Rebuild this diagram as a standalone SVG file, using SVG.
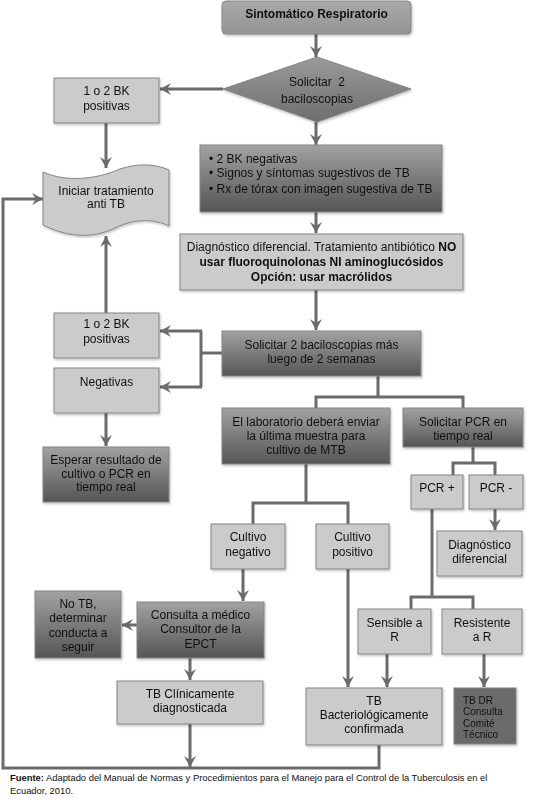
<svg xmlns="http://www.w3.org/2000/svg" width="555" height="810" viewBox="0 0 555 810">
<style>
.lt{fill:#cbcbcb;stroke:#858585;stroke-width:1}
.dk{fill:url(#gd);stroke:#858585;stroke-width:1}
.t{font-family:"Liberation Sans",Arial,sans-serif;font-size:12px;text-anchor:middle;fill:#111}
.b{font-weight:bold}
.c path{fill:none;stroke:#6b6b6b;stroke-width:3}
.c .a{marker-end:url(#ar)}
</style>
<defs>
<linearGradient id="gd" x1="0" y1="0" x2="0" y2="1"><stop offset="0" stop-color="#a2a2a2"/><stop offset="1" stop-color="#555"/></linearGradient>
<linearGradient id="gt" x1="0" y1="0" x2="0" y2="1"><stop offset="0" stop-color="#a8a8a8"/><stop offset="1" stop-color="#959595"/></linearGradient>
<linearGradient id="gm" x1="0" y1="0" x2="0" y2="1"><stop offset="0" stop-color="#9a9a9a"/><stop offset="1" stop-color="#6e6e6e"/></linearGradient>
<marker id="ar" markerUnits="userSpaceOnUse" markerWidth="12" markerHeight="12" refX="11" refY="6" orient="auto"><path d="M0,0 L11,6 L0,12 L4,6 z" fill="#6b6b6b"/></marker>
<filter id="sh" x="-10%" y="-10%" width="130%" height="130%"><feDropShadow dx="1" dy="1.5" stdDeviation="1" flood-color="#000" flood-opacity="0.25"/></filter>
</defs>
<g class="c" id="connectors">
<path class="a" d="M316,34 V57"/>
<path class="a" d="M223,89 H160"/>
<path class="a" d="M106,123 V168"/>
<path class="a" d="M316,122 V145"/>
<path class="a" d="M316,212 V233"/>
<path class="a" d="M316,290 V330"/>
<path d="M222,353 H201"/>
<path d="M201,331 V387"/>
<path class="a" d="M202,331 H160"/>
<path class="a" d="M202,387 H160"/>
<path class="a" d="M106,313 V236"/>
<path class="a" d="M106,413 V446"/>
<path d="M378,376 V397"/>
<path d="M316,408 V397 H463 V408"/>
<path d="M306,464 V503"/>
<path d="M253,524 V503 H348 V524"/>
<path d="M473,447 V463"/>
<path d="M453,475 V463 H495 V475"/>
<path class="a" d="M495,509 V530"/>
<path d="M432,509 V597"/>
<path d="M411,609 V597 H473 V609"/>
<path class="a" d="M243,569 V601"/>
<path class="a" d="M137,625 H122"/>
<path class="a" d="M190,658 V680"/>
<path class="a" d="M348,569 V687"/>
<path class="a" d="M387,654 V687"/>
<path class="a" d="M484,654 V687"/>
<path class="a" d="M190,724 V767"/>
<path class="a" d="M379,745 V768 H3 V199 H43"/>
</g>
<g id="n1" filter="url(#sh)"><rect x="222" y="1" width="189" height="33" rx="4" fill="url(#gt)" stroke="#858585"/><text class="t b" x="316.5" y="18">Sintomático Respiratorio</text></g>
<g id="n2" filter="url(#sh)"><polygon points="317,57 411,89 317,122 223,89" fill="url(#gm)" stroke="#858585"/><text class="t" x="317" y="86" xml:space="preserve">Solicitar  2</text><text class="t" x="317" y="103">baciloscopias</text></g>
<g id="n3" filter="url(#sh)"><rect class="lt" x="54" y="78" width="105" height="45"/><text class="t" x="106.5" y="95">1 o 2 BK</text><text class="t" x="106.5" y="110">positivas</text></g>
<g id="n4" filter="url(#sh)"><path class="lt" d="M43,172 C65,182 95,180 120,169 C140,162 158,165 169,170 L169,226 C155,219 135,218 115,228 C90,240 65,236 43,225 Z"/><text class="t" x="106" y="195">Iniciar tratamiento</text><text class="t" x="106" y="208">anti TB</text></g>
<g id="n5" filter="url(#sh)"><rect class="dk" x="200" y="145" width="242" height="67"/><text class="t" style="text-anchor:start" x="209" y="163">• 2 BK negativas</text><text class="t" style="text-anchor:start" x="209" y="177">• Signos y síntomas sugestivos de TB</text><text class="t" style="text-anchor:start" x="209" y="193">• Rx de tórax con imagen sugestiva de TB</text></g>
<g id="n6" filter="url(#sh)"><rect class="lt" x="180" y="234" width="283" height="56"/><text class="t" x="321.5" y="251">Diagnóstico diferencial. Tratamiento antibiótico <tspan class="b">NO</tspan></text><text class="t b" x="321.5" y="266">usar fluoroquinolonas NI aminoglucósidos</text><text class="t b" x="321.5" y="281">Opción: usar macrólidos</text></g>
<g id="n7" filter="url(#sh)"><rect class="dk" x="222" y="331" width="199" height="45"/><text class="t" x="321.5" y="349">Solicitar 2 baciloscopias más</text><text class="t" x="321.5" y="363">luego de 2 semanas</text></g>
<g id="n8" filter="url(#sh)"><rect class="lt" x="54" y="313" width="105" height="45"/><text class="t" x="106.5" y="328">1 o 2 BK</text><text class="t" x="106.5" y="343">positivas</text></g>
<g id="n9" filter="url(#sh)"><rect class="lt" x="54" y="368" width="105" height="45"/><text class="t" x="106.5" y="386">Negativas</text></g>
<g id="n10" filter="url(#sh)"><rect class="dk" x="43" y="447" width="126" height="55"/><text class="t" x="106" y="464">Esperar resultado de</text><text class="t" x="106" y="478">cultivo o PCR en</text><text class="t" x="106" y="491">tiempo real</text></g>
<g id="n11" filter="url(#sh)"><rect class="dk" x="222" y="408" width="168" height="56"/><text class="t" x="306" y="426">El laboratorio deberá enviar</text><text class="t" x="306" y="440">la última muestra para</text><text class="t" x="306" y="454">cultivo de MTB</text></g>
<g id="n12" filter="url(#sh)"><rect class="dk" x="403" y="408" width="120" height="39"/><text class="t" x="463" y="426">Solicitar PCR en</text><text class="t" x="463" y="440">tiempo real</text></g>
<g id="n13" filter="url(#sh)"><rect class="lt" x="411" y="475" width="52" height="34"/><text class="t" x="437" y="492">PCR +</text></g>
<g id="n14" filter="url(#sh)"><rect class="lt" x="469" y="475" width="54" height="34"/><text class="t" x="496" y="492">PCR -</text></g>
<g id="n15" filter="url(#sh)"><rect class="lt" x="437" y="531" width="85" height="45"/><text class="t" x="479.5" y="549">Diagnóstico</text><text class="t" x="479.5" y="563">diferencial</text></g>
<g id="n16" filter="url(#sh)"><rect class="lt" x="211" y="524" width="74" height="45"/><text class="t" x="248" y="541">Cultivo</text><text class="t" x="248" y="556">negativo</text></g>
<g id="n17" filter="url(#sh)"><rect class="lt" x="316" y="524" width="73" height="45"/><text class="t" x="352.5" y="541">Cultivo</text><text class="t" x="352.5" y="556">positivo</text></g>
<g id="n18" filter="url(#sh)"><rect class="dk" x="137" y="602" width="127" height="56"/><text class="t" x="200.5" y="619">Consulta a médico</text><text class="t" x="200.5" y="633">Consultor de la</text><text class="t" x="200.5" y="648">EPCT</text></g>
<g id="n19" filter="url(#sh)"><rect class="dk" x="35" y="591" width="86" height="67"/><text class="t" x="78" y="608">No TB,</text><text class="t" x="78" y="622">determinar</text><text class="t" x="78" y="637">conducta a</text><text class="t" x="78" y="651">seguir</text></g>
<g id="n20" filter="url(#sh)"><rect class="lt" x="358" y="609" width="73" height="45"/><text class="t" x="394.5" y="627">Sensible a</text><text class="t" x="394.5" y="641">R</text></g>
<g id="n21" filter="url(#sh)"><rect class="lt" x="442" y="609" width="80" height="45"/><text class="t" x="482" y="627">Resistente</text><text class="t" x="482" y="641">a R</text></g>
<g id="n22" filter="url(#sh)"><rect class="lt" x="117" y="681" width="146" height="43"/><text class="t" x="190" y="698">TB Clínicamente</text><text class="t" x="190" y="712">diagnosticada</text></g>
<g id="n23" filter="url(#sh)"><rect class="lt" x="306" y="688" width="136" height="57"/><text class="t" x="374" y="705">TB</text><text class="t" x="374" y="719">Bacteriológicamente</text><text class="t" x="374" y="733">confirmada</text></g>
<g id="n24" filter="url(#sh)"><rect x="454" y="688" width="62" height="56" fill="#6b6b6b" stroke="#858585"/><text class="t" style="text-anchor:start;font-size:10px" x="463" y="704">TB DR</text><text class="t" style="text-anchor:start;font-size:10px" x="463" y="715">Consulta</text><text class="t" style="text-anchor:start;font-size:10px" x="463" y="727">Comité</text><text class="t" style="text-anchor:start;font-size:10px" x="463" y="738">Técnico</text></g>
<g id="footer"><text class="t" style="text-anchor:start;font-size:9.4px" x="10" y="781"><tspan class="b">Fuente:</tspan> Adaptado del Manual de Normas y Procedimientos para el Manejo para el Control de la Tuberculosis en el</text><text class="t" style="text-anchor:start;font-size:9.4px" x="10" y="794">Ecuador, 2010.</text></g>
</svg>
